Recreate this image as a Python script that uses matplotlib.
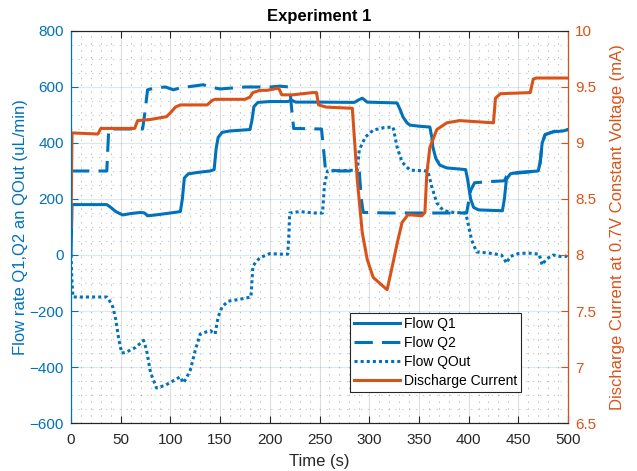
import matplotlib
matplotlib.use("Agg")
import matplotlib.pyplot as plt
from matplotlib.ticker import MultipleLocator

plt.rcParams["font.family"] = ["Liberation Sans", "DejaVu Sans"]

BLUE = "#0072BD"
ORANGE = "#D95319"
DARK = "#262626"

# Flow Q1 (uL/min)
q1_t = [0, 1, 36, 40, 45, 52, 60, 70, 74, 77, 85, 100, 110, 112, 114, 118, 130, 140,
        144, 146, 148, 152, 160, 180, 182, 184, 188, 200, 218, 222, 226, 250, 285, 290,
        293, 298, 328, 331, 334, 338, 341, 350, 361, 363, 364, 367, 371, 378, 397, 399,
        402, 405, 410, 434, 436, 438, 442, 450, 470, 472, 474, 477, 485, 495, 500]
q1_v = [0, 180, 180, 170, 155, 143, 148, 152, 150, 140, 143, 150, 155, 200, 275, 290, 296, 300,
        305, 380, 420, 438, 443, 448, 480, 530, 545, 548, 548, 553, 546, 546, 545, 555,
        560, 546, 543, 520, 493, 472, 464, 460, 457, 420, 386, 345, 321, 311, 305, 270,
        200, 170, 161, 158, 200, 270, 290, 295, 300, 330, 400, 430, 440, 443, 448]

# Flow Q2 (uL/min)
q2_t = [0, 36, 37, 38, 50, 72, 74, 77, 85, 95, 103, 110, 133, 140, 150, 175, 200, 210,
        220, 222, 224, 252, 254, 256, 270, 290, 292, 294, 320, 358, 398, 402, 406, 420,
        436, 438, 442, 470, 472, 474, 477, 485, 500]
q2_v = [300, 300, 380, 450, 450, 450, 500, 590, 597, 600, 590, 597, 608, 600, 593, 600, 600, 603,
        600, 520, 452, 450, 380, 305, 300, 300, 200, 152, 150, 150, 150, 230, 258, 262,
        265, 280, 290, 300, 330, 400, 430, 440, 448]

# Flow QOut (uL/min)
qo_t = [0, 1, 2, 36, 39, 42, 45, 48, 51, 55, 65, 73, 76, 80, 86, 95, 105, 110, 113, 116,
        120, 125, 130, 140, 145, 148, 152, 158, 170, 181, 183, 186, 190, 200, 210, 218,
        219, 220, 230, 245, 253, 255, 258, 288, 290, 296, 304, 315, 324, 328, 333, 341,
        359, 363, 368, 374, 381, 397, 399, 403, 408, 420, 433, 436, 438, 442, 450, 460,
        471, 474, 478, 485, 495, 498, 500]
qo_v = [0, -100, -150, -150, -165, -185, -230, -300, -350, -348, -330, -305, -340, -420, -475,
        -465, -445, -435, -457, -440, -411, -340, -282, -270, -282, -221, -185, -165, -158,
        -150, -40, -25, -10, 5, 3, 3, 60, 150, 155, 150, 150, 250, 300, 303, 375, 421, 446,
        455, 457, 386, 332, 303, 300, 243, 186, 161, 153, 150, 120, 54, 11, 7, 0, -15, -29,
        -5, 5, 7, 3, -36, -15, 0, -7, -5, 11]

# Discharge current (mA)
cur_t = [0, 1, 27, 30, 64, 67, 80, 96, 100, 105, 110, 137, 142, 145, 175, 180, 183, 190,
         197, 209, 212, 223, 243, 247, 249, 257, 283, 288, 293, 298, 304, 309, 318, 323,
         328, 333, 339, 353, 356, 358, 361, 368, 378, 391, 425, 427, 432, 462, 465, 468, 500]
cur_v = [8.25, 9.09, 9.08, 9.13, 9.13, 9.2, 9.21, 9.235, 9.27, 9.32, 9.34, 9.34, 9.38, 9.39,
         9.39, 9.41, 9.45, 9.47, 9.47, 9.49, 9.43, 9.43, 9.45, 9.45, 9.34, 9.32, 9.31, 8.67,
         8.2, 7.96, 7.8, 7.76, 7.69, 7.89, 8.1, 8.29, 8.36, 8.35, 8.38, 8.73, 8.96, 9.12, 9.18,
         9.2, 9.18, 9.4, 9.44, 9.45, 9.57, 9.58, 9.58]

fig = plt.figure(figsize=(6.37, 4.71), dpi=100)
ax = fig.add_axes([0.1115, 0.1019, 0.7802, 0.8323])
ax2 = ax.twinx()

lw = 2.2
l1, = ax.plot(q1_t, q1_v, color=BLUE, lw=lw, label="Flow Q1")
l2, = ax.plot(q2_t, q2_v, color=BLUE, lw=lw, ls=(0, (6, 3)), label="Flow Q2")
l3, = ax.plot(qo_t, qo_v, color=BLUE, lw=lw, ls=(0, (1, 1)), label="Flow QOut")
l4, = ax2.plot(cur_t, cur_v, color=ORANGE, lw=lw, label="Discharge Current")

ax.set_xlim(0, 500)
ax.set_ylim(-600, 800)
ax2.set_ylim(6.5, 10)
ax.xaxis.set_major_locator(MultipleLocator(50))
ax.xaxis.set_minor_locator(MultipleLocator(10))
ax.yaxis.set_major_locator(MultipleLocator(200))
ax.yaxis.set_minor_locator(MultipleLocator(50))
ax2.set_yticks([6.5, 7, 7.5, 8, 8.5, 9, 9.5, 10])
ax2.set_yticklabels(["6.5", "7", "7.5", "8", "8.5", "9", "9.5", "10"])

# grids: solid major, sparse dotted minor
ax.grid(True, which="major", axis="x", color=DARK, alpha=0.15, lw=0.8)
ax.grid(True, which="major", axis="y", color=BLUE, alpha=0.15, lw=0.8)
ax.grid(True, which="minor", axis="x", color=DARK, alpha=0.3, lw=0.8, ls=(0, (1.2, 5)))
ax.grid(True, which="minor", axis="y", color=BLUE, alpha=0.3, lw=0.8, ls=(0, (1.2, 5)))
ax.set_axisbelow(True)

for a in (ax, ax2):
    a.tick_params(which="both", direction="in", labelsize=11)
    a.tick_params(which="minor", length=0)
ax.tick_params(axis="x", colors=DARK, top=True, length=5, pad=7)
ax.tick_params(axis="y", colors=BLUE, length=5, pad=5)
ax2.tick_params(axis="y", colors=ORANGE, length=5, pad=5)
ax.spines["left"].set_color(BLUE)
ax2.spines["left"].set_color(BLUE)
ax2.spines["right"].set_color(ORANGE)
for a in (ax, ax2):
    a.spines["top"].set_color(DARK)
    a.spines["bottom"].set_color(DARK)

ax.set_xlabel("Time (s)", fontsize=12, color=DARK, labelpad=5)
ax.set_ylabel("Flow rate Q1,Q2 an QOut (uL/min)", fontsize=12, color=BLUE, labelpad=1)
ax2.set_ylabel("Discharge Current at 0.7V Constant Voltage (mA)", fontsize=12,
               color=ORANGE, labelpad=10)
ax.set_title("Experiment 1", fontsize=12, fontweight="bold", color="black", pad=7)

leg = ax2.legend([l1, l2, l3, l4], [l.get_label() for l in (l1, l2, l3, l4)],
                 loc="lower left", bbox_to_anchor=(0.561, 0.079), fontsize=10,
                 frameon=True, fancybox=False, edgecolor=DARK, framealpha=1,
                 handlelength=3.3, borderpad=0.3, labelspacing=0.35, handletextpad=0.3,
                 borderaxespad=0)
leg.get_frame().set_linewidth(0.8)

fig.savefig("out.png", dpi=100)
